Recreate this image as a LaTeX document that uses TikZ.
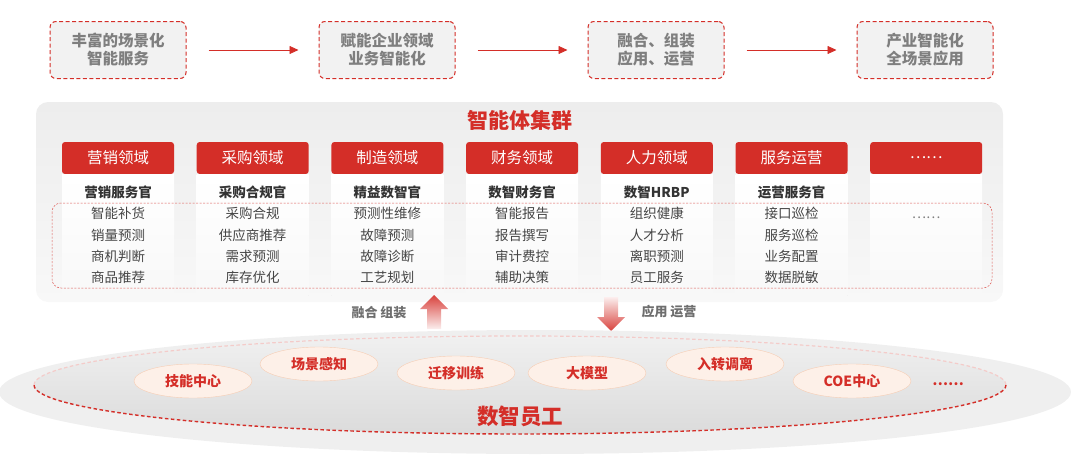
\documentclass[tikz,border=0pt]{standalone}
\usepackage{fontspec}
\setmainfont{Noto Sans CJK SC}
\usetikzlibrary{positioning,arrows.meta,shapes.geometric,shadows}
\definecolor{zred}{HTML}{D42E28}
\definecolor{lgray}{HTML}{F2F2F2}
\definecolor{tgray}{HTML}{7F7F7F}
\definecolor{dgray}{HTML}{333333}
\definecolor{igray}{HTML}{454545}
\definecolor{lblg}{HTML}{6E6E6E}
\definecolor{panelt}{HTML}{EDEDED}
\definecolor{panelb}{HTML}{F8F8F8}
\definecolor{pillin}{HTML}{FDF0E8}
\definecolor{pillmid}{HTML}{FADCCB}
\definecolor{pillout}{HTML}{F2B894}
\definecolor{plat}{HTML}{EFEFEF}
\definecolor{platmid}{HTML}{F3F3F3}
\definecolor{innert}{HTML}{F0F0F0}
\definecolor{innerb}{HTML}{DBDBDB}
\newcommand{\fStage}{\fontsize{15.5}{18}\selectfont}
\newcommand{\fTitle}{\fontsize{21}{24}\selectfont}
\newcommand{\fDom}{\fontsize{15.5}{18}\selectfont}
\newcommand{\fItem}{\fontsize{13.5}{21.3}\selectfont}
\newcommand{\fLbl}{\fontsize{13}{15}\selectfont}
\newcommand{\fPill}{\fontsize{14}{16}\selectfont}
\newcommand{\fBase}{\fontsize{21.5}{24}\selectfont}
\pgfdeclareradialshading{pillshade}{\pgfpoint{0bp}{0bp}}{color(0bp)=(pillin);color(26bp)=(pillin);color(42bp)=(pillmid);color(50bp)=(pillout)}
\pgfdeclareradialshading{platshade}{\pgfpoint{0bp}{0bp}}{color(0bp)=(plat);color(38bp)=(plat);color(45bp)=(platmid);color(50bp)=(white)}

\begin{document}
\begin{tikzpicture}[x=1pt,y=-1pt,
  stage/.style={draw=zred,dash pattern=on 4pt off 2.5pt,line width=1pt,fill=lgray,rounded corners=6pt,minimum width=136pt,minimum height=57pt,align=center,font=\fStage\bfseries,text=tgray},
  flow/.style={-{Triangle[length=9pt,width=8pt]},zred,line width=0.8pt,shorten <=22pt,shorten >=20pt},
  dom/.style={fill=zred,rounded corners=3pt,minimum width=112pt,minimum height=32pt,text=white,font=\fDom,inner sep=0pt},
  card/.style={top color=white,bottom color=panelb,minimum width=112pt,text width=104pt,align=center,inner ysep=11.5pt,font=\fItem,text=igray,drop shadow={shadow xshift=0pt,shadow yshift=-1pt,opacity=0.12}},
  pill/.style={ellipse,shading=pillshade,draw=pillout!70,line width=0.4pt,minimum width=118pt,minimum height=34pt,text=zred,font=\fPill\bfseries,inner sep=0pt},
  lbl/.style={text=lblg,font=\fLbl\bfseries}]
  \useasboundingbox (0,0) rectangle (1080,463);
  % stages
  \node[stage] (s1) at (118,50) {丰富的场景化\\智能服务};
  \node[stage,right=132pt of s1] (s2) {赋能企业领域\\业务智能化};
  \node[stage,right=132pt of s2] (s3) {融合、组装\\应用、运营};
  \node[stage,right=132pt of s3] (s4) {产业智能化\\全场景应用};
  \draw[flow] (s1.east) -- (s2.west);
  \draw[flow] (s2.east) -- (s3.west);
  \draw[flow] (s3.east) -- (s4.west);
  % agent cluster
  \shade[top color=panelt,bottom color=panelb,rounded corners=12pt] (36,102) rectangle (1003,302);
  \node[font=\fTitle\bfseries,text=zred] (title) at (520,120) {智能体集群};
  \node[dom] (h1) at (118,158) {营销领域};
  \node[dom,right=22.3pt of h1] (h2) {采购领域};
  \node[dom,right=22.3pt of h2] (h3) {制造领域};
  \node[dom,right=22.3pt of h3] (h4) {财务领域};
  \node[dom,right=22.3pt of h4] (h5) {人力领域};
  \node[dom,right=22.3pt of h5] (h6) {服务运营};
  \node[dom,right=22.3pt of h6] (h7) {……};
  \node[card,below=0pt of h1] (c1) {{\color{dgray}\bfseries 营销服务官}\\智能补货\\销量预测\\商机判断\\商品推荐};
  \node[card,below=0pt of h2] (c2) {{\color{dgray}\bfseries 采购合规官}\\采购合规\\供应商推荐\\需求预测\\库存优化};
  \node[card,below=0pt of h3] (c3) {{\color{dgray}\bfseries 精益数智官}\\预测性维修\\故障预测\\故障诊断\\工艺规划};
  \node[card,below=0pt of h4] (c4) {{\color{dgray}\bfseries 数智财务官}\\智能报告\\报告撰写\\审计费控\\辅助决策};
  \node[card,below=0pt of h5] (c5) {{\color{dgray}\bfseries 数智HRBP}\\组织健康\\人才分析\\离职预测\\员工服务};
  \node[card,below=0pt of h6] (c6) {{\color{dgray}\bfseries 运营服务官}\\接口巡检\\服务巡检\\业务配置\\数据脱敏};
  \node[card,below=0pt of h7] (c7) {\phantom{官}\\{\color{tgray}……}\\\phantom{官}\\\phantom{官}\\\phantom{官}};
  \draw[zred!80,dash pattern=on 2pt off 1.5pt,line width=0.5pt,rounded corners=9pt] (52,203) rectangle (992,288);
  % arrows between layers
  \shade[top color=zred!90,bottom color=zred!8] (434,295) -- (448,309) -- (441,309) -- (441,329) -- (427,329) -- (427,309) -- (420,309) -- cycle;
  \shade[top color=zred!8,bottom color=zred!90] (611,331) -- (625,317) -- (618,317) -- (618,297) -- (604,297) -- (604,317) -- (597,317) -- cycle;
  \node[lbl] (fuse) at (379,313) {融合 组装};
  \node[lbl] (apply) at (669,312) {应用 运营};
  % digital employees
  \shade[shading=platshade] (535,392) ellipse [x radius=536, y radius=62];
  \shade[top color=innert,bottom color=innerb] (520,385) ellipse [x radius=486, y radius=49];
  \draw[zred!25,dash pattern=on 3.5pt off 2.5pt,line width=1.2pt] (34,385) arc [start angle=180,end angle=360,x radius=486,y radius=49];
  \draw[zred,dash pattern=on 3.5pt off 2.5pt,line width=1.4pt] (1006,385) arc [start angle=0,end angle=180,x radius=486,y radius=49];
  \node[pill] (p1) at (193,381) {技能中心};
  \node[pill] (p2) at (319,364) {场景感知};
  \node[pill] (p3) at (456,373) {迁移训练};
  \node[pill] (p4) at (587,373) {大模型};
  \node[pill] (p5) at (725,364) {入转调离};
  \node[pill] (p6) at (852,381) {COE中心};
  \node[text=zred,font=\fPill\bfseries] (pmore) at (948,384) {……};
  \node[text=zred,font=\fBase\bfseries] (base) at (520,416) {数智员工};
\end{tikzpicture}
\end{document}
